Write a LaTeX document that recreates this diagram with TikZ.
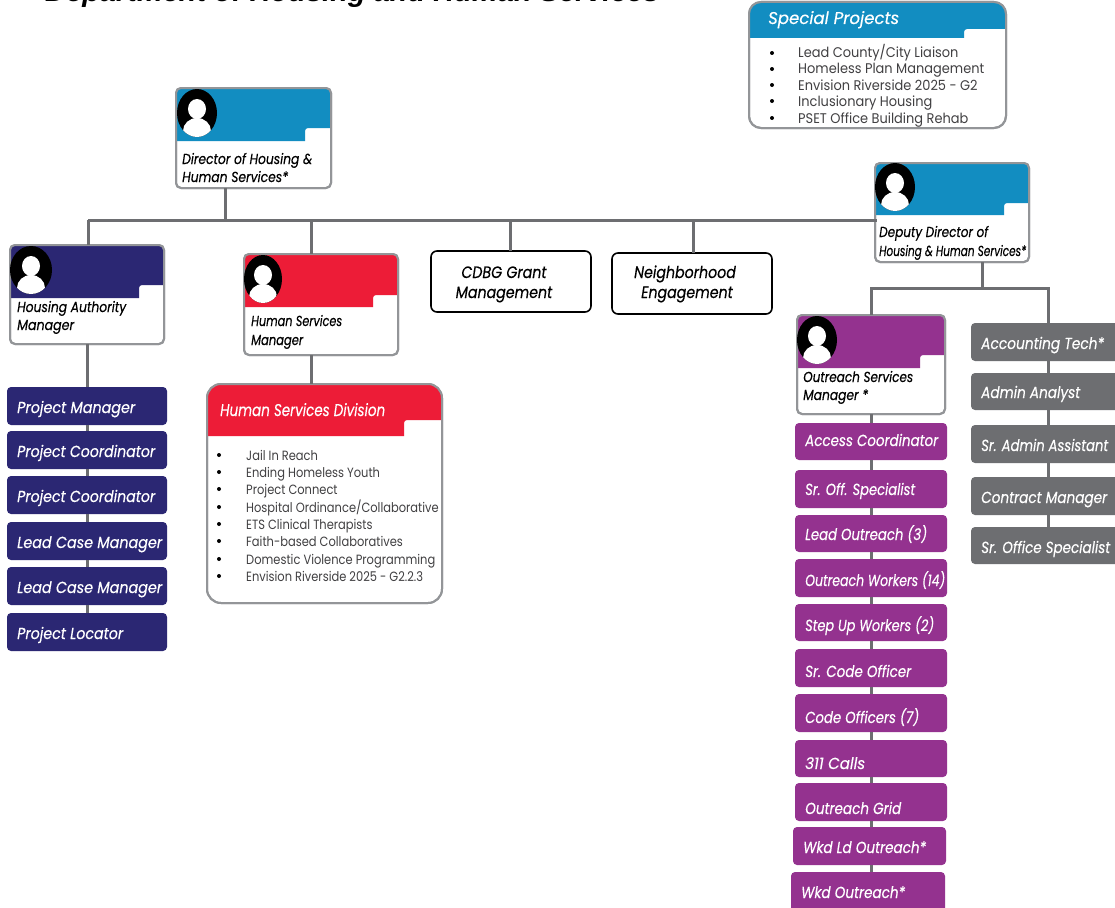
\documentclass[tikz,border=0pt]{standalone}
\usepackage{graphicx}
\usepackage{fontspec}
\setmainfont{Liberation Sans}
\newfontfamily\gothic[FakeStretch=0.86,FakeBold=0.3]{Poppins}
\newfontfamily\gothiclist[FakeStretch=0.855]{Poppins}
\newfontfamily\gothicwide[FakeStretch=0.925]{Poppins}
\definecolor{hblue}{HTML}{128DC1}
\definecolor{hnavy}{HTML}{2B2773}
\definecolor{hred}{HTML}{ED1C37}
\definecolor{hpurple}{HTML}{94328F}
\definecolor{hgray}{HTML}{6D6E71}
\definecolor{houtline}{HTML}{939598}
\definecolor{hlist}{HTML}{414042}
\newcommand{\fitw}[2]{\resizebox{#1pt}{\height}{#2}}
\tikzset{
  conn/.style={draw=hgray,line width=3pt},
  cardbox/.style={draw=houtline,fill=white,line width=2pt,inner sep=0pt,outer sep=0pt,rectangle},
  barbox/.style={rectangle,inner sep=0pt,outer sep=0pt,rounded corners=4pt},
  plainbox/.style={rectangle,draw=black,fill=white,line width=1.6pt,rounded corners=6pt,inner sep=0pt,outer sep=0pt},
  cardtext/.style={anchor=base west,inner sep=0pt,font=\gothic\itshape\fontsize{14.5}{19}\selectfont,text=black},
  bartext/.style={anchor=base west,inner sep=0pt,font=\gothic\itshape\fontsize{16}{19}\selectfont,text=white},
  headtext/.style={anchor=base west,inner sep=0pt,font=\gothic\itshape\fontsize{17}{19}\selectfont,text=white},
  plaintext/.style={anchor=base,inner sep=0pt,font=\gothic\itshape\fontsize{16.5}{20}\selectfont,text=black},
  listtext/.style={anchor=base west,inner sep=0pt,text=hlist},
}
% name x1 y1 x2 y2 color bandbottom notchx notchtop
\newcommand{\hcard}[9]{%
  \pgfmathsetmacro{\cw}{#4-#2}\pgfmathsetmacro{\ch}{#5-#3}%
  \pgfmathsetmacro{\cx}{(#2+#4)/2}\pgfmathsetmacro{\cy}{(#3+#5)/2}%
  \node[cardbox,rounded corners=\hr pt,minimum width=\cw pt,minimum height=\ch pt] (#1) at (\cx,\cy) {};
  \fill[#6] (#2,#7) [rounded corners=\hr pt] -- (#2,#3) -- (#4,#3) [sharp corners] -- (#4,#9) [rounded corners=3pt] -- (#8,#9) [sharp corners] -- (#8,#7) -- cycle;
  \draw[draw=houtline,line width=2pt,rounded corners=\hr pt] (#1.north west) rectangle (#1.south east);
}
% cx cy rx
\newcommand{\havatar}[3]{%
  \begin{scope}
    \fill[black] (#1,#2) ellipse [x radius=#3,y radius=24];
    \clip (#1,#2) ellipse [x radius=#3,y radius=24];
    \fill[white] (#1,#2-4) ellipse [x radius=9,y radius=10];
    \fill[white] (#1,#2+18) ellipse [x radius=14,y radius=13];
  \end{scope}
}
% name x1 y1 x2 y2 color text textbaseline textwidth
\newcommand{\orgbar}[9]{%
  \pgfmathsetmacro{\cw}{#4-#2}\pgfmathsetmacro{\ch}{#5-#3}%
  \pgfmathsetmacro{\cx}{(#2+#4)/2}\pgfmathsetmacro{\cy}{(#3+#5)/2}\pgfmathsetmacro{\tx}{#2+10}%
  \node[barbox,fill=#6,minimum width=\cw pt,minimum height=\ch pt] (#1) at (\cx,\cy) {};
  \node[bartext] (#1t) at (\tx,#8+1) {\fitw{#9}{#7}};
}
\begin{document}
\begin{tikzpicture}[x=1pt,y=-1pt]
\useasboundingbox (0,0) rectangle (1115,907);
\fill[white] (0,0) rectangle (1115,907);

% title (cut off by the top edge, as in the reference)
\node[anchor=base west,inner sep=0pt,font=\bfseries\itshape\fontsize{29}{30}\selectfont] (title) at (45,2) {Department of Housing and Human Services};

% bus coordinates
\coordinate (busD) at (225,220);
\coordinate (busHA) at (88,220);
\coordinate (busHS) at (311,220);
\coordinate (busCD) at (510,220);
\coordinate (busNE) at (693,220);
\coordinate (busDD) at (877,220);
\coordinate (depB) at (982,288);
\coordinate (depL) at (871,288);
\coordinate (depR) at (1048,288);
\coordinate (colHA) at (87,345);
\coordinate (colHS) at (311,355);

% cards
\def\hr{5}
\hcard{dir}{176}{88}{331}{188}{hblue}{141}{305}{128}
\hcard{ham}{10}{245}{164}{344}{hnavy}{298}{139}{285}
\hcard{hsm}{244}{254}{398}{355}{hred}{307}{373}{295}
\hcard{dep}{875}{163}{1029}{262}{hblue}{215}{1004}{203}
\hcard{osm}{797}{315}{945}{414}{hpurple}{368}{920}{355}
\def\hr{12}
\hcard{spec}{749}{2}{1006}{128}{hblue}{38}{964}{29}
\def\hr{14}
\hcard{hsd}{207}{384}{442}{603}{hred}{436}{404}{420}

\havatar{197}{113}{20}
\havatar{31}{270}{21}
\havatar{263}{279}{19}
\havatar{895}{187}{20}
\havatar{817}{340}{20}

% card labels
\node[cardtext] (dirA) at (182,164) {\fitw{130}{Director of Housing \&}};
\node[cardtext] (dirB) at (182,182) {\fitw{106}{Human Services*}};
\node[cardtext] (hamA) at (17,312) {\fitw{109}{Housing Authority}};
\node[cardtext] (hamB) at (17,330) {\fitw{57}{Manager}};
\node[cardtext] (hsmA) at (251,326) {\fitw{91}{Human Services}};
\node[cardtext] (hsmB) at (251,345) {\fitw{52}{Manager}};
\node[cardtext] (depA) at (879,237) {\fitw{109}{Deputy Director of}};
\node[cardtext] (depC) at (879,256) {\fitw{147}{Housing \& Human Services*}};
\node[cardtext] (osmA) at (803,382) {\fitw{110}{Outreach Services}};
\node[cardtext] (osmB) at (803,400) {\fitw{65}{Manager *}};

% list cards
\node[headtext] (specT) at (768,24) {\fitw{131}{Special Projects}};
\node[headtext] (hsdT) at (220,416) {\fitw{165}{Human Services Division}};
\begin{scope}[every node/.append style={font=\gothicwide\fontsize{14}{16}\selectfont}]
\foreach \n/\y/\ltx in {1/58/{Lead County/City Liaison},2/74/{Homeless Plan Management},3/90/{Envision Riverside 2025 - G2},4/106/{Inclusionary Housing},5/123/{PSET Office Building Rehab}}{
  \fill[black] (772,\y-5) circle (2);
  \node[listtext] (spec\n) at (798,\y) {\ltx};
}
\end{scope}
\begin{scope}[every node/.append style={font=\gothiclist\fontsize{13.4}{16}\selectfont}]
\foreach \n/\y/\ltx in {1/460/{Jail In Reach},2/477/{Ending Homeless Youth},3/494/{Project Connect},4/512/{Hospital Ordinance/Collaborative},5/529/{ETS Clinical Therapists},6/546/{Faith-based Collaboratives},7/564/{Domestic Violence Programming},8/581/{Envision Riverside 2025 - G2.2.3}}{
  \fill[black] (219,\y-5) circle (2);
  \node[listtext] (hsl\n) at (246,\y) {\ltx};
}
\end{scope}

% plain boxes
\node[plainbox,minimum width=160pt,minimum height=61pt] (cdbg) at (511,281.5) {};
\node[plainbox,minimum width=160pt,minimum height=61pt] (neigh) at (692,283.5) {};
\node[plaintext] (cdbgA) at (504,278) {CDBG Grant};
\node[plaintext] (cdbgB) at (504,298) {Management};
\node[plaintext] (neighA) at (685,278) {Neighborhood};
\node[plaintext] (neighB) at (687,298) {Engagement};

% navy column
\orgbar{n1}{7}{387}{167}{425}{hnavy}{Project Manager}{412}{118}
\orgbar{n2}{7}{431}{167}{469}{hnavy}{Project Coordinator}{456}{138}
\orgbar{n3}{7}{476}{167}{514}{hnavy}{Project Coordinator}{501}{138}
\orgbar{n4}{7}{522}{167}{560}{hnavy}{Lead Case Manager}{547}{145}
\orgbar{n5}{7}{567}{167}{605}{hnavy}{Lead Case Manager}{592}{145}
\orgbar{n6}{7}{613}{167}{651}{hnavy}{Project Locator}{638}{106}

% purple column
\orgbar{p1}{795}{423}{947}{460}{hpurple}{Access Coordinator}{445}{133}
\orgbar{p2}{795}{470}{947}{508}{hpurple}{Sr. Off. Specialist}{494}{110}
\orgbar{p3}{795}{515}{947}{552}{hpurple}{Lead Outreach (3)}{539}{122}
\orgbar{p4}{795}{559}{947}{597}{hpurple}{Outreach Workers (14)}{585}{140}
\orgbar{p5}{795}{604}{947}{641}{hpurple}{Step Up Workers (2)}{630}{129}
\orgbar{p6}{795}{649}{947}{687}{hpurple}{Sr. Code Officer}{676}{106}
\orgbar{p7}{795}{694}{947}{732}{hpurple}{Code Officers (7)}{722}{114}
\orgbar{p8}{795}{740}{947}{777}{hpurple}{311 Calls}{768}{60}
\orgbar{p9}{795}{783}{947}{821}{hpurple}{Outreach Grid}{813}{96}
\orgbar{p10}{793}{827}{946}{865}{hpurple}{Wkd Ld Outreach*}{852}{123}
\orgbar{p11}{791}{872}{945}{915}{hpurple}{Wkd Outreach*}{897}{104}

% gray column
\orgbar{g1}{971}{323}{1125}{361}{hgray}{Accounting Tech*}{348}{123}
\orgbar{g2}{971}{373}{1125}{410}{hgray}{Admin Analyst}{397}{99}
\orgbar{g3}{971}{425}{1125}{463}{hgray}{Sr. Admin Assistant}{450}{127}
\orgbar{g4}{971}{477}{1125}{515}{hgray}{Contract Manager}{502}{126}
\orgbar{g5}{971}{527}{1125}{564}{hgray}{Sr. Office Specialist}{552}{129}

% connectors
\draw[conn] (busHA) -- (busDD |- busHA);
\draw[conn] (busD |- dir.south) -- (busD);
\draw[conn] (busHA) -- (busHA |- ham.north);
\draw[conn] (busHS) -- (busHS |- hsm.north);
\draw[conn] (busCD) -- (busCD |- cdbg.north);
\draw[conn] (busNE) -- (busNE |- neigh.north);
\draw[conn] (depB |- dep.south) -- (depB);
\draw[conn] (depL |- osm.north) -- (depL) -- (depR) -- (depR |- g1.north);
\draw[conn] (colHA |- ham.south) -- (colHA |- n1.north);
\draw[conn] (colHS |- hsm.south) -- (colHS |- hsd.north);
\draw[conn] (depL |- osm.south) -- (depL |- p1.north);
\foreach \a/\b in {n1/n2,n2/n3,n3/n4,n4/n5,n5/n6}
  \draw[conn] (colHA |- \a.south) -- (colHA |- \b.north);
\foreach \a/\b in {p1/p2,p2/p3,p3/p4,p4/p5,p5/p6,p6/p7,p7/p8,p8/p9,p9/p10,p10/p11}
  \draw[conn] (depL |- \a.south) -- (depL |- \b.north);
\foreach \a/\b in {g1/g2,g2/g3,g3/g4,g4/g5}
  \draw[conn] (depR |- \a.south) -- (depR |- \b.north);
\end{tikzpicture}
\end{document}
